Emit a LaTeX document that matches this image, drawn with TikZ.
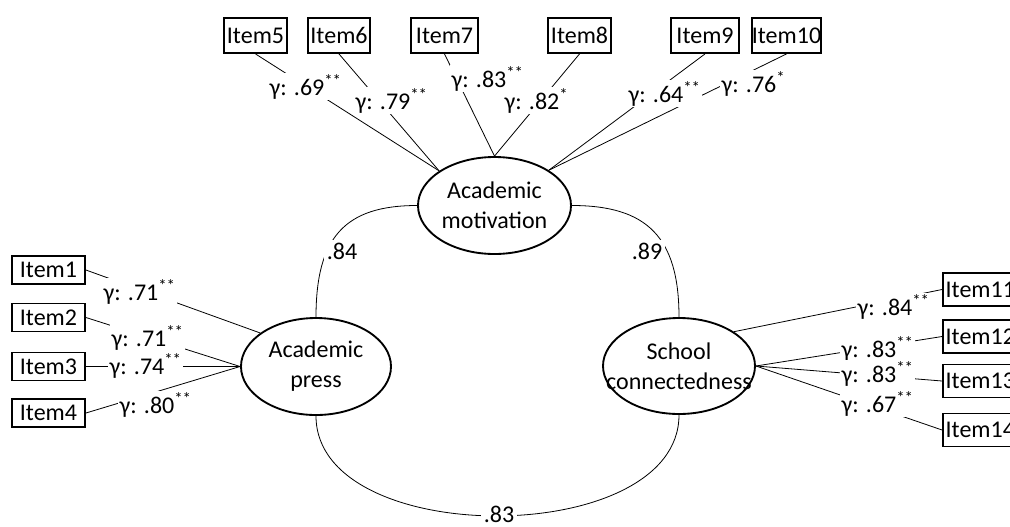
\documentclass[tikz,border=0pt]{standalone}
\usepackage{fontspec}
\setmainfont{Carlito}
\usetikzlibrary{shapes.geometric}
\newcommand\gload[2]{γ: .#1\textsuperscript{#2}}
\begin{document}
\begin{tikzpicture}[x=0.75pt,y=-0.75pt,
  every node/.style={font=\fontsize{18}{22.5}\selectfont},
  latent/.style={ellipse, draw, line width=1.4pt, inner sep=0pt},
  itembox/.style={rectangle, draw, line width=1.4pt, inner sep=0pt},
  topbox/.style={itembox, minimum height=26.25pt},
  leftbox/.style={itembox, minimum width=54.75pt, minimum height=21pt},
  rightbox/.style={itembox, minimum width=52.5pt, minimum height=24.75pt},
  conn/.style={line width=0.6pt},
  lab/.style={fill=white, inner sep=1pt, anchor=base west},
  corr/.style={fill=white, inner sep=2pt}]
\useasboundingbox (0,0) rectangle (1010,526);
\clip (0,0) rectangle (1010,526);

% latent variables
\node[latent, minimum width=114.75pt, minimum height=72.75pt,
  label={[align=center]center:Academic\\motivation}] (am) at (494.5,205.5) {};
\node[latent, minimum width=112.5pt, minimum height=72.75pt,
  label={[align=center]center:Academic\\press}] (ap) at (316,366.5) {};
\node[latent, minimum width=114pt, minimum height=72pt,
  label={[align=center]center:School\\connectedness}] (as) at (679,366) {};

% top items
\node[topbox, minimum width=47.25pt] (i5) at (255.5,35.5) {Item5};
\node[topbox, minimum width=46.5pt] (i6) at (339,35.5) {Item6};
\node[topbox, minimum width=50.25pt] (i7) at (444.5,35.5) {Item7};
\node[topbox, minimum width=47.25pt] (i8) at (579.5,35.5) {Item8};
\node[topbox, minimum width=51pt] (i9) at (705,35.5) {Item9};
\node[topbox, minimum width=51.75pt] (i10) at (786.5,35.5) {Item10};

% left items
\node[leftbox] (i1) at (48.5,270) {Item1};
\node[leftbox] (i2) at (48.5,317.5) {Item2};
\node[leftbox] (i3) at (48.5,366.5) {Item3};
\node[leftbox] (i4) at (48.5,413) {Item4};

% right items
\node[rightbox, text width=50pt, align=left, inner xsep=2pt] (i11) at (979,289.5) {Item11};
\node[rightbox, text width=50pt, align=left, inner xsep=2pt] (i12) at (979,336.5) {Item12};
\node[rightbox, text width=50pt, align=left, inner xsep=2pt] (i13) at (979,381) {Item13};
\node[rightbox, text width=50pt, align=left, inner xsep=2pt] (i14) at (979,430) {Item14};

% loadings
\draw[conn] (i5.south) -- (am.148);
\draw[conn] (i6.south) -- (am.148);
\draw[conn] (i7.south) -- (am.north);
\draw[conn] (i8.south) -- (am.north);
\draw[conn] (i9.south) -- (am.33);
\draw[conn] (i10.south) -- (am.33);
\draw[conn] (i1.east) -- (ap.149);
\draw[conn] (i2.east) -- (ap.west);
\draw[conn] (i3.east) -- (ap.west);
\draw[conn] (i4.east) -- (ap.west);
\draw[conn] (i11.west) -- (as.32);
\draw[conn] (i12.west) -- (as.east);
\draw[conn] (i13.west) -- (as.east);
\draw[conn] (i14.west) -- (as.east);

% loading labels
\node[lab] (l5) at (268,95) {\gload{69}{**}};
\node[lab] (l6) at (354,109) {\gload{79}{**}};
\node[lab] (l7) at (450,87) {\gload{83}{**}};
\node[lab] (l8) at (503,109) {\gload{82}{*}};
\node[lab] (l9) at (627,102) {\gload{64}{**}};
\node[lab] (l10) at (720,92) {\gload{76}{*}};
\node[lab] (l1) at (102,300) {\gload{71}{**}};
\node[lab] (l2) at (110,346) {\gload{71}{**}};
\node[lab] (l3) at (108,374) {\gload{74}{**}};
\node[lab] (l4) at (118,413) {\gload{80}{**}};
\node[lab] (l11) at (856,315) {\gload{84}{**}};
\node[lab] (l12) at (840,357) {\gload{83}{**}};
\node[lab] (l13) at (840,382) {\gload{83}{**}};
\node[lab] (l14) at (840,412) {\gload{67}{**}};

% correlations
\draw[conn] (am.west) .. controls +(-72,0) and +(0,-80) .. (ap.north);
\draw[conn] (am.east) .. controls +(75,0) and +(0,-80) .. (as.north);
\draw[conn] (ap.south) .. controls +(0,134) and +(0,134) .. (as.south);
\node[corr] (c1) at (342,251) {.84};
\node[corr] (c2) at (647,251) {.89};
\node[corr, inner ysep=1pt] (c3) at (499,514) {.83};
\end{tikzpicture}
\end{document}
